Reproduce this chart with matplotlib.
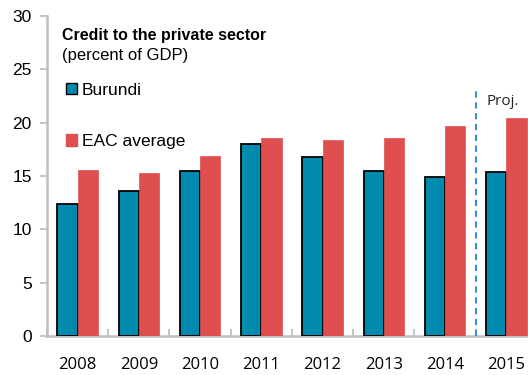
import matplotlib.pyplot as plt
import numpy as np
from matplotlib.patches import Patch

years = ["2008", "2009", "2010", "2011", "2012", "2013", "2014", "2015"]
burundi = [12.4, 13.6, 15.5, 18.0, 16.8, 15.5, 14.9, 15.4]
eac_avg = [15.6, 15.3, 16.9, 18.55, 18.4, 18.55, 19.7, 20.45]

teal = "#008BAE"
red = "#DF4F4F"
grey = "#BFBFBF"

plt.rcParams['font.family'] = ['Liberation Sans', 'DejaVu Sans']

fig = plt.figure(figsize=(5.28, 3.75), dpi=100)
ax = fig.add_axes([0.089, 0.104, 0.928, 0.853])

x = np.arange(len(years))
w = 0.33
ax.bar(x - w / 2, burundi, w, color=teal, edgecolor="black", linewidth=1.3, zorder=3)
ax.bar(x + w / 2, eac_avg, w, color=red, edgecolor=red, linewidth=0.5, zorder=3)

# projection marker between 2014 and 2015
ax.plot([6.5, 6.5], [0, 23.3], ls=(0, (3, 2.2)), color="#3A8FD0", lw=1.5, zorder=4)
ax.text(6.68, 22.0, "Proj.", fontsize=11, color="#222222", family="Open Sans",
        va="center", ha="left")

ax.set_xlim(-0.5, 7.5)
ax.set_ylim(0, 30)
ax.set_yticks(range(0, 31, 5))
ax.set_xticks(x)
ax.set_xticklabels(years, fontsize=12, family="Open Sans")
ax.set_xticks(np.arange(-0.5, 7.5, 1), minor=True)
ax.tick_params(axis="x", which="major", length=0, pad=15)
ax.tick_params(axis="x", which="minor", direction="in", length=5, color=grey, width=1.3)
ax.tick_params(axis="y", direction="out", length=5, color=grey, width=1.3,
               labelsize=12.5, pad=6)

for s in ["top", "right"]:
    ax.spines[s].set_visible(False)
for s in ["left", "bottom"]:
    ax.spines[s].set_color(grey)
    ax.spines[s].set_linewidth(1.8)

ax.text(0.03, 0.962, "Credit to the private sector", transform=ax.transAxes,
        fontsize=11.5, fontweight="bold", va="top", ha="left")
ax.text(0.03, 0.9, "(percent of GDP)", transform=ax.transAxes,
        fontsize=12, va="top", ha="left")

handles = [Patch(facecolor=teal, edgecolor="black", linewidth=1.0),
           Patch(facecolor=red, edgecolor=red)]
ax.legend(handles, ["Burundi", "EAC average"], loc="upper left",
          bbox_to_anchor=(0.015, 0.83), frameon=False, fontsize=12.5,
          handlelength=0.6, handleheight=0.6, handletextpad=0.3,
          labelspacing=2.1, borderaxespad=0.3)

fig.savefig("out.png", dpi=100)
